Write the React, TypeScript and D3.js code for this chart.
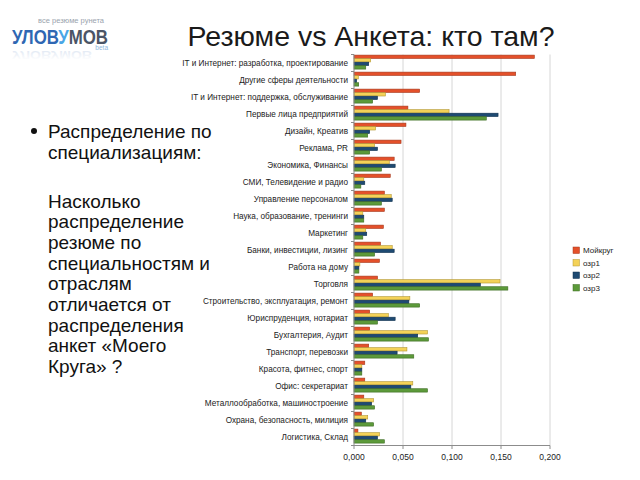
import * as d3 from 'd3';

const categories = [
  'IT и Интернет: разработка, проектирование',
  'Другие сферы деятельности',
  'IT и Интернет: поддержка, обслуживание',
  'Первые лица предприятий',
  'Дизайн, Креатив',
  'Реклама, PR',
  'Экономика, Финансы',
  'СМИ, Телевидение и радио',
  'Управление персоналом',
  'Наука, образование, тренинги',
  'Маркетинг',
  'Банки, инвестиции, лизинг',
  'Работа на дому',
  'Торговля',
  'Строительство, эксплуатация, ремонт',
  'Юриспруденция, нотариат',
  'Бухгалтерия, Аудит',
  'Транспорт, перевозки',
  'Красота, фитнес, спорт',
  'Офис: секретариат',
  'Металлообработка, машиностроение',
  'Охрана, безопасность, милиция',
  'Логистика, Склад',
];

const seriesNames = ['Мойкруг', 'озр1', 'озр2', 'озр3'];

const moikrug = [0.184, 0.165, 0.067, 0.055, 0.053, 0.048, 0.041, 0.037, 0.031, 0.031, 0.030, 0.027, 0.026, 0.024, 0.019, 0.016, 0.016, 0.015, 0.011, 0.011, 0.010, 0.0075, 0.004];
const ozr1 = [0.017, 0.0044, 0.032, 0.097, 0.022, 0.021, 0.036, 0.010, 0.038, 0.009, 0.012, 0.039, 0.006, 0.149, 0.057, 0.035, 0.075, 0.054, 0.008, 0.060, 0.020, 0.014, 0.026];
const ozr2 = [0.015, 0.0027, 0.024, 0.147, 0.016, 0.024, 0.042, 0.011, 0.039, 0.010, 0.013, 0.041, 0.005, 0.129, 0.056, 0.042, 0.065, 0.044, 0.008, 0.058, 0.018, 0.012, 0.024];
const ozr3 = [0.012, 0.0048, 0.019, 0.135, 0.014, 0.016, 0.028, 0.007, 0.028, 0.010, 0.009, 0.021, 0.005, 0.157, 0.067, 0.024, 0.076, 0.061, 0.008, 0.075, 0.021, 0.020, 0.031];

const xTicks = [0, 0.05, 0.1, 0.15, 0.2];

const bulletLines = [
  'Распределение по',
  'специализациям:',
  '',
  'Насколько',
  'распределение',
  'резюме по',
  'специальностям и',
  'отраслям',
  'отличается от',
  'распределения',
  'анкет «Моего',
  'Круга» ?',
];

const fills = ['#e4502a', '#f4d258', '#1e4a72', '#5c9a3a'];
const strokes = ['#a4381c', '#b39632', '#10304e', '#3c6b22'];

const fmt = d3.formatLocale({ decimal: ',', thousands: ' ', grouping: [3], currency: ['', ''] }).format('.3f');

export default function App() {
  const allSeries = [moikrug, ozr1, ozr2, ozr3];
  const x = d3.scaleLinear().domain([0, 0.2]).range([354, 550]);
  const y = d3.scaleBand<string>().domain(categories).range([54.5, 445.5]);
  const inner = d3.scaleBand<number>().domain([0, 1, 2, 3]).range([0.6, y.bandwidth() - 2.4]).paddingInner(0.05);
  const font = '"Liberation Sans", Arial, sans-serif';

  return (
    <div style={{ position: 'absolute', left: 0, top: 0 }}>
      <svg width={640} height={480} style={{ display: 'block', background: '#fff' }} fontFamily={font}>
        <defs>
          <linearGradient id="fade" x1="0" y1="0" x2="0" y2="1">
            <stop offset="0" stopColor="#fff" stopOpacity={0} />
            <stop offset="1" stopColor="#fff" stopOpacity={1} />
          </linearGradient>
        </defs>
        {/* logo */}
        <g>
          <text x={104} y={23} fontSize={7.5} fill="#9aa3ad" textAnchor="end">все резюме рунета</text>
          <text x={12} y={44} fontSize={20} fontWeight="bold" textLength={96} lengthAdjust="spacingAndGlyphs">
            <tspan fill="#2f67b3">УЛОВ</tspan>
            <tspan fill="#4aa6e6">У</tspan>
            <tspan fill="#4b5566">МОВ</tspan>
          </text>
          <text x={108} y={50} fontSize={6.5} fill="#8fb8e0" textAnchor="end">beta</text>
          <g transform="translate(0,51) scale(1,-0.5) translate(0,-44)" opacity={0.13}>
            <text x={12} y={44} fontSize={20} fontWeight="bold" textLength={80} lengthAdjust="spacingAndGlyphs" fill="#2f67b3">УЛОВУМОВ</text>
          </g>
          <rect x={10} y={51} width={100} height={9} fill="url(#fade)" />
        </g>

        <text x={371} y={46} fontSize={28.5} fill="#1a1a1a" textAnchor="middle">Резюме vs Анкета: кто там?</text>

        {/* bullet text */}
        <circle cx={34} cy={131} r={3} fill="#111" />
        {bulletLines.map((t, i) => {
          const cy = i < 2 ? 131 + i * 21 : 201 + (i - 3) * 20.7;
          return t ? (
            <text key={i} x={48} y={cy + 6.5} fontSize={19} fill="#111">{t}</text>
          ) : null;
        })}

        {/* grid */}
        {xTicks.slice(1).map((t) => (
          <line key={t} x1={x(t)} x2={x(t)} y1={54.5} y2={445.5} stroke="#d6d6d6" strokeWidth={1} />
        ))}

        {/* bars */}
        {categories.map((c, ci) => (
          <g key={c} transform={`translate(0,${y(c)})`}>
            {allSeries.map((s, si) => (
              <rect
                key={si}
                x={x(0)}
                y={inner(si)}
                width={x(s[ci]) - x(0)}
                height={inner.bandwidth()}
                fill={fills[si]}
                stroke={strokes[si]}
                strokeWidth={0.6}
              />
            ))}
          </g>
        ))}

        {/* axes */}
        <line x1={354} x2={354} y1={54.5} y2={445.5} stroke="#8c8c8c" />
        <line x1={351} x2={550} y1={445.5} y2={445.5} stroke="#8c8c8c" />
        {categories.map((c) => (
          <line key={c} x1={351} x2={354} y1={y(c)} y2={y(c)} stroke="#8c8c8c" />
        ))}
        {xTicks.map((t) => (
          <g key={t}>
            <line x1={x(t)} x2={x(t)} y1={445.5} y2={449} stroke="#8c8c8c" />
            <text x={x(t)} y={460} fontSize={8.5} fill="#222" textAnchor="middle">{fmt(t)}</text>
          </g>
        ))}
        {categories.map((c) => (
          <text key={c} x={348} y={(y(c) ?? 0) + y.bandwidth() / 2 + 3} fontSize={8.2} fill="#222" textAnchor="end">{c}</text>
        ))}

        {/* legend */}
        {seriesNames.map((n, i) => (
          <g key={n} transform={`translate(573,${247 + i * 12.5})`}>
            <rect width={6.5} height={6.5} fill={fills[i]} stroke={strokes[i]} strokeWidth={0.5} />
            <text x={10} y={6.3} fontSize={8} fill="#222">{n}</text>
          </g>
        ))}
      </svg>
    </div>
  );
}
